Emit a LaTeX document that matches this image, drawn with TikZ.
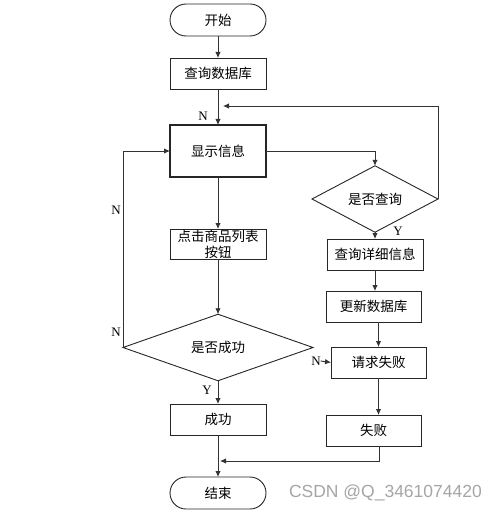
\documentclass[tikz,border=0pt]{standalone}
\usepackage{fontspec}
\setmainfont{Liberation Serif}
\newfontfamily\cjk{Noto Sans CJK SC}
\newfontfamily\wmfont{Liberation Sans}
\usetikzlibrary{arrows.meta,shapes.geometric}
\begin{document}
\begin{tikzpicture}[x=1pt,y=-1pt,
  every node/.style={inner sep=0pt, outer sep=0pt},
  base/.style={draw=black!85, line width=0.9pt, font=\cjk\fontsize{13.5}{17}\selectfont, align=center},
  box/.style={base, rectangle, minimum width=96pt, minimum height=31pt},
  term/.style={base, rectangle, rounded corners=16pt, minimum width=96pt, minimum height=32pt},
  dec/.style={base, diamond},
  lab/.style={font=\fontsize{13}{13}\selectfont},
  arr/.style={draw=black!80, line width=0.9pt, -{Latex[length=6pt,width=5.5pt]}},
  ln/.style={draw=black!80, line width=0.9pt}]
\fill[white] (0,0) rectangle (499,513);
\useasboundingbox (0,0) rectangle (499,513);

\node[term] (start) at (218,20) {开始};
\node[box] (q1) at (218,73.5) {查询数据库};
\node[box, minimum height=52pt, line width=1.7pt] (show) at (218,151) {显示信息};
\node[box, minimum height=30pt] (click) at (218,244) {点击商品列表\\[-1pt]按钮};
\node[dec, minimum width=190pt, minimum height=51pt] (dia1) at (218,347.5) {是否成功};
\node[dec, minimum width=126pt, minimum height=48pt] (dia2) at (375,199) {是否查询};
\node[box] (detail) at (375,254.5) {查询详细信息};
\node[box, minimum width=95pt] (update) at (373.5,306.5) {更新数据库};
\node[box, minimum width=95pt] (req) at (378.5,362.5) {请求失败};
\node[box, minimum width=95pt] (fail) at (373.5,430.5) {失败};
\node[box] (ok) at (218,419.5) {成功};
\node[term] (end) at (218,493) {结束};

\coordinate (loopEnd) at (223,106);
\coordinate (joinEnd) at (220,461);

\node[lab] (nTop) at (203,116) {N};
\node[lab] (yQ) at (398,231) {Y};
\node[lab] (nL1) at (116,210) {N};
\node[lab] (nL2) at (116,332) {N};
\node[lab] (nR) at (316,361) {N};
\node[lab] (yOk) at (207,390) {Y};

\draw[arr] (start) -- (q1);
\draw[arr] (q1) -- (show);
\draw[arr] (show.east) -| (dia2.north);
\draw[arr] (dia2.east) |- (loopEnd);
\draw[arr] (dia2.south) -- (detail.north);
\draw[arr] (detail.south) -- (detail.south |- update.north);
\draw[arr] (req.north |- update.south) -- (req.north);
\draw[arr] (req.south) -- (req.south |- fail.north);
\draw[arr] ([xshift=6pt]fail.south) |- (joinEnd);
\draw[arr] (show) -- (click);
\draw[arr] (click) -- (dia1.north);
\draw[arr] (dia1.west) |- (show.west);
\draw[arr] (nR.east) -- (req.west);
\draw[arr] (dia1.south) -- (ok.north);
\draw[arr] (ok) -- (end);

\node[text=black!35, font=\wmfont\fontsize{17.5}{17.5}\selectfont, anchor=west] (wm) at (289,493) {CSDN @Q\_3461074420};
\end{tikzpicture}
\end{document}
